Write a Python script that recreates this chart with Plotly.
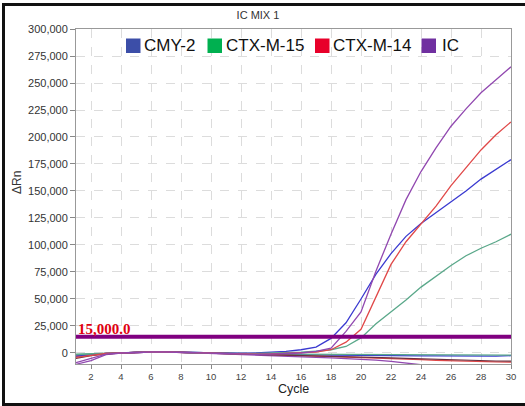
import plotly.graph_objects as go

cycles = list(range(1, 31))

# Amplifying curves
cmy2 = [-3000, -1500, -500, 0, 600, 900, 900, 600, 0, -300, -600, -500, 0, 600, 1500,
        3000, 5500, 13500, 28000, 50000, 73000, 92000, 108000, 120000, 130000, 140000,
        150000, 161000, 170000, 179000]
ctxm15 = [-1500, -800, -300, 0, 600, 900, 900, 600, 0, -300, -600, -600, -400, -200, 0,
          800, 1800, 3000, 6000, 14000, 27000, 38000, 49000, 61000, 71000, 81000, 90000,
          97000, 103000, 110000]
ctxm14 = [-4000, -2000, -500, 0, 600, 900, 900, 600, 0, -300, -700, -1000, -1000, -800,
          -500, 0, 800, 3000, 10000, 22000, 52000, 82000, 103000, 120000, 136000, 155000,
          172000, 188000, 202000, 214000]
ic = [-9000, -5000, -1000, 0, 600, 900, 900, 600, 0, -300, -800, -1200, -1200, -1000,
      -500, 0, 1500, 4500, 20000, 38000, 76000, 110000, 142000, 168000, 190000, 210000,
      226000, 241000, 253000, 265000]

# Non-amplifying curves
cmy2_neg = [-3000, -1500, -500, 0, 600, 900, 900, 600, 0, -300, -600, -800, -1000, -1200,
            -1400, -1600, -1800, -2000, -2200, -2300, -2400, -2500, -2600, -2700, -2700,
            -2800, -2800, -2800, -2900, -2500]
ctxm15_neg = [-1000, -500, -200, 0, 600, 900, 900, 600, 0, -300, -600, -700, -800, -900,
              -1000, -1100, -1200, -1300, -1400, -1500, -1500, -1600, -1600, -1700,
              -1700, -1800, -1800, -1900, -1900, -2000]
ctxm14_neg = [-3000, -1500, -500, 0, 600, 900, 900, 600, 0, -300, -800, -1200, -1500,
              -1800, -2200, -2500, -2900, -3300, -3700, -4000, -4500, -5000, -5600,
              -6200, -6800, -7300, -7700, -8000, -8300, -8500]
other_neg = [-5000, -2500, -800, 0, 600, 900, 900, 600, 0, -300, -800, -1300, -1600,
             -1900, -2200, -2500, -2800, -3100, -3400, -3700, -4100, -4500, -5000,
             -5500, -6000, -6400, -6800, -7100, -7400, -7600]
ic_neg = [-10500, -7000, -1500, 0, 600, 900, 900, 600, 0, -300, -900, -1500, -2000,
          -2600, -3100, -3600, -4100, -4600, -5200, -5800, -6600, -7800, -9300, -11000,
          -12500, -14000, -15500, -17000, -18500, -20000]

threshold = 15000
threshold_label = "15,000.0"

series_names = ["CMY-2", "CTX-M-15", "CTX-M-14", "IC"]
legend_colors = ["#3c4ea8", "#00b050", "#e8002a", "#7030a0"]
line_colors = ["#3a3ad0", "#5aa88a", "#e04848", "#9148b0"]

y_ticks = list(range(0, 300001, 25000))
x_ticks = list(range(2, 31, 2))

W, H = 525, 406
L, R, T, B = 76, 14, 29, 42
pw, ph = W - L - R, H - T - B


def px(x):
    return (x - L) / pw


def py(y):
    return (H - B - y) / ph


fig = go.Figure()

amp = [cmy2, ctxm15, ctxm14, ic]
neg = [cmy2_neg, ctxm15_neg, ctxm14_neg, ic_neg]

for vals, col, name in zip(neg, line_colors, series_names):
    fig.add_trace(go.Scatter(x=cycles, y=vals, mode="lines", showlegend=False,
                             name=name, legendgroup=name,
                             line=dict(color=col, width=1.3)))
fig.add_trace(go.Scatter(x=cycles, y=other_neg, mode="lines", showlegend=False,
                         name="other", line=dict(color="#6a3040", width=1.2)))
for vals, col, name in zip(amp, line_colors, series_names):
    fig.add_trace(go.Scatter(x=cycles, y=vals, mode="lines", showlegend=False,
                             name=name, legendgroup=name,
                             line=dict(color=col, width=1.3)))

# Legend (squares + labels) drawn at the reference positions
legend_sq_left = [126, 207.5, 315, 421.5]
legend_text_left = [142, 223.5, 331, 439.5]
for name, col, sx, tx in zip(series_names, legend_colors, legend_sq_left, legend_text_left):
    fig.add_shape(type="rect", xref="paper", yref="paper", x0=px(sx), x1=px(sx + 14.5),
                  y0=py(53), y1=py(38.5), fillcolor=col, line=dict(width=0))
    fig.add_annotation(x=px(tx), xref="paper", xanchor="left", y=py(46), yref="paper",
                       yanchor="middle", text=name, showarrow=False,
                       font=dict(family="Liberation Sans", size=17, color="#111"))

fig.add_shape(type="line", xref="paper", x0=0, x1=1, yref="y", y0=threshold, y1=threshold,
              line=dict(color="#800080", width=4), layer="above")
fig.add_annotation(x=0, xref="paper", xanchor="left", y=threshold, yref="y",
                   yanchor="bottom", yshift=-2, text="<b>" + threshold_label + "</b>",
                   showarrow=False,
                   font=dict(family="Liberation Serif", size=15, color="#e00010"))

# Axis titles
fig.add_annotation(x=px(17), xref="paper", xanchor="center", y=py(182), yref="paper",
                   yanchor="middle", text="ΔRn", textangle=-90, showarrow=False,
                   font=dict(family="Liberation Sans", size=12, color="#333"))
fig.add_annotation(x=px(293), xref="paper", xanchor="center", y=py(389), yref="paper",
                   yanchor="middle", text="Cycle", showarrow=False,
                   font=dict(family="Liberation Sans", size=12.5, color="#222"))

# Outer frame
fig.add_shape(type="rect", xref="paper", yref="paper", x0=px(3.5), x1=px(540),
              y0=py(404.5), y1=py(4.5), line=dict(color="#111", width=3),
              fillcolor="rgba(0,0,0,0)", layer="above")

fig.update_layout(
    width=W, height=H,
    margin=dict(l=L, r=R, t=T, b=B, autoexpand=False),
    paper_bgcolor="white", plot_bgcolor="white",
    showlegend=False,
    title=dict(text="IC MIX 1", x=258 / W, xanchor="center",
               y=1 - 15 / H, yanchor="middle",
               font=dict(family="Liberation Sans", size=11, color="#333")),
    font=dict(family="Liberation Sans", color="#333"),
    xaxis=dict(range=[1, 30], tickvals=x_ticks, ticks="outside", ticklen=4,
               tickcolor="#888", showgrid=True, gridcolor="#dcdcdc", griddash="dash",
               gridwidth=1, showline=True, linecolor="#999", mirror=True,
               zeroline=False, automargin=False, tickfont=dict(size=9.5, color="#444")),
    yaxis=dict(range=[-10200, 300000], tickvals=y_ticks, tickformat=",d",
               ticks="outside", ticklen=5, tickcolor="#888", showgrid=True,
               gridcolor="#dcdcdc", griddash="dash", gridwidth=1, showline=True,
               linecolor="#999", mirror=True, zeroline=False, automargin=False,
               tickfont=dict(size=11, color="#333")),
)

fig.write_html("out.html", config={"displayModeBar": False},
               post_script="document.body.style.margin='0';document.body.style.padding='0';")
